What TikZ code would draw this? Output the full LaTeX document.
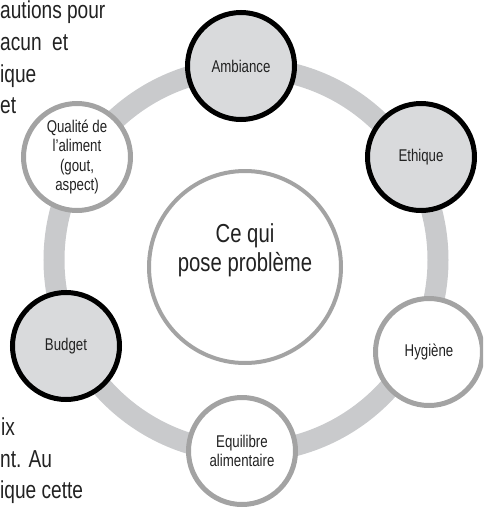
\documentclass[tikz,border=0pt]{standalone}
\usepackage{fontspec}
\setmainfont[FakeStretch=0.78]{Liberation Sans}
\usetikzlibrary{positioning}
\definecolor{ringgray}{HTML}{C9CACC}
\definecolor{fillgray}{HTML}{D9DADC}
\definecolor{edgegray}{HTML}{A3A3A3}
\definecolor{inkgray}{HTML}{222222}

\begin{document}
\begin{tikzpicture}[
  x=1pt, y=-1pt,
  theme/.style={circle, line width=5pt, minimum size=107pt, inner sep=0pt, align=center, text=inkgray, font=\fontsize{17}{19.5}\selectfont},
  strong/.style={theme, draw=black, fill=fillgray},
  soft/.style={theme, draw=edgegray, fill=white},
  hub/.style={circle, draw=edgegray, line width=4pt, fill=white, minimum size=192pt, inner sep=0pt, align=center, text=inkgray, font=\fontsize{26}{29}\selectfont},
  body/.style={anchor=base west, inner sep=0pt, text=inkgray, font=\fontsize{24.5}{31}\selectfont}
]
\useasboundingbox (0,0) rectangle (483,509);
\clip (0,0) rectangle (483,509);

% text of the page around the figure
\node[body] (t1) at (0,18)  {autions pour};
\node[body] (t2) at (0,50)  {acun\ \ et};
\node[body] (t3) at (0,82)  {ique};
\node[body] (t4) at (0,113) {et};
\node[body] (t5) at (1,435) {ix};
\node[body] (t6) at (0,467) {nt. Au};
\node[body] (t7) at (0,498) {ique cette};

% ring behind the themes
\coordinate (c) at (246,260);
\draw[ringgray, line width=21pt] (c) circle[radius=192pt];

\node[hub, text depth=38pt] (pb) at (245,267) {Ce qui\\pose problème};

\node[strong] (amb) at (241,66)  {Ambiance};
\node[strong] (eth) at (421,157) {Ethique};
\node[soft]   (hyg) at (429,352) {Hygiène};
\node[soft]   (equ) at (242,451) {Equilibre\\alimentaire};
\node[strong] (bud) at (66,346)  {Budget};
\node[soft]   (qua) at (77,157)  {Qualité de\\l’aliment\\(gout,\\aspect)};
\end{tikzpicture}
\end{document}
